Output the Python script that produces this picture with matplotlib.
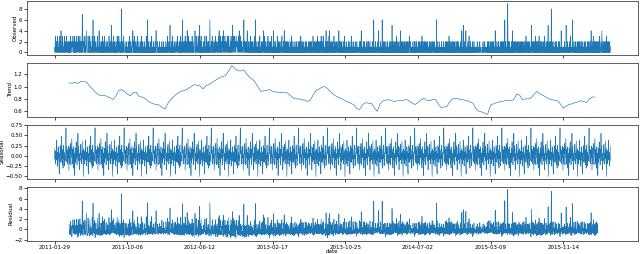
import numpy as np
import pandas as pd
from matplotlib import pyplot as plt

start_date = "2011-01-29"

# daily counts, one string per 50 days
observed_segments = [
    "0103120210" "3011020130" "2140102301" "0120310201" "1302011020",
    "2010301120" "0213012030" "1020131021" "0301201302" "1020170312",
    "0120301024" "1000130200" "0310201103" "2061020130" "0020010031",
    "0104012010" "2010300102" "0130100201" "1020010300" "0200150102",
    "1030102010" "0201031020" "1310020102" "8010201300" "0120102010",
    "0102010300" "1020100314" "0201302010" "2010130201" "0100201030",
    "0102001020" "1001030100" "6010200102" "0100301001" "0201002014",
    "1000201001" "0200100102" "0010020010" "1002001030" "0102001500",
    "1020103010" "0201021002" "1030120100" "2010301021" "6020102003",
    "1020104012" "0310201020" "1203010210" "0124010301" "2010301205",
    "0201302010" "1020120301" "0130201020" "2010630102" "1203010210",
    "2013020120" "1020314021" "3010202130" "1401203012" "0210301203",
    "2010120302" "1250213021" "3021032120" "1203140213" "0212010021",
    "0612010201" "2034010201" "1020301020" "2010102013" "0600102010",
    "1020103010" "0201002014" "1030102010" "0201301020" "1020010301",
    "0104020100" "2010103010" "0201020102" "1030100201" "4010201020",
    "1020102010" "0201030100" "2010010201" "0102001020" "1002010301",
    "0201020100" "1020010201" "0102102010" "2010201003" "0201020120",
    "1020301020" "2010201302" "0120302010" "1020401020" "2010304102",
    "1020102010" "0301020102" "1020100040" "2010201020" "0102010300",
    "1002010100" "0201002010" "1030100201" "0100201000" "2001000102",
    "0102040100" "1020100201" "0102010020" "2010020100" "0102001060",
    "1000201010" "0020140100" "1020100601" "0201020010" "2010102010",
    "0102010201" "0500201020" "1020103010" "0201020100" "4010201020",
    "1020102010" "0201020102" "1300201010" "0102010020" "2010020100",
    "0201020102" "1020301020" "0102010201" "2010201010" "0201020102",
    "1020102010" "0100602010" "1002010100" "0201001020" "1000201002",
    "0102010300" "2010201020" "1020102010" "0201020201" "2010102010",
    "0400105010" "2010140100" "1020103010" "0201001020" "1002010100",
    "0100201000" "1002000100" "0010201000" "2000100102" "0102010020",
    "1020102010" "0201004010" "1020100201" "0102010020" "2010200106",
    "1020100209" "0201020100" "1020040102" "0102010201" "2010201020",
    "1020102010" "0201020102" "1030102010" "0201020100" "2500201020",
    "1020301020" "2010201301" "0201020102" "1020103010" "0201020150",
    "1020100208" "0201020100" "1020102010" "0102010200" "1004010010",
    "0100201000" "5010020100" "1020030100" "0260100201" "0102010020",
    "1020102010" "0201020100" "1020102010" "0102010201" "2010204010",
    "1020301020" "2010201020" "0201030102" "1024010201" "0201020103",
    "1020102010201",
]
observed = np.array([int(c) for c in "".join(observed_segments)])

# trend read every 10 days, from day 50
trend_start = 50
trend_step = 10
trend = [
    1.06, 1.05, 1.07, 1.05, 1.08, 1.08, 1.07, 1.01, 0.96, 0.91,
    0.87, 0.85, 0.86, 0.84, 0.82, 0.79, 0.84, 0.93, 0.95, 0.92,
    0.88, 0.85, 0.90, 0.91, 0.84, 0.83, 0.81, 0.77, 0.74, 0.72,
    0.71, 0.70, 0.66, 0.64, 0.73, 0.79, 0.84, 0.88, 0.91, 0.93,
    0.94, 0.97, 1.00, 1.03, 1.02, 1.01, 0.96, 1.01, 1.03, 1.06,
    1.09, 1.12, 1.15, 1.16, 1.19, 1.26, 1.34, 1.29, 1.26, 1.25,
    1.27, 1.21, 1.15, 1.12, 1.07, 0.99, 0.92, 0.93, 0.94, 0.95,
    0.92, 0.91, 0.91, 0.90, 0.90, 0.90, 0.86, 0.82, 0.80, 0.80,
    0.79, 0.78, 0.76, 0.78, 0.87, 0.94, 0.96, 0.99, 1.00, 0.96,
    0.91, 0.87, 0.84, 0.82, 0.80, 0.77, 0.75, 0.73, 0.70, 0.64,
    0.63, 0.71, 0.74, 0.73, 0.73, 0.66, 0.60, 0.72, 0.77, 0.78,
    0.79, 0.77, 0.76, 0.77, 0.77, 0.78, 0.79, 0.77, 0.73, 0.71,
    0.74, 0.78, 0.81, 0.78, 0.77, 0.79, 0.79, 0.72, 0.66, 0.67,
    0.68, 0.76, 0.80, 0.81, 0.80, 0.79, 0.78, 0.77, 0.75, 0.73,
    0.64, 0.60, 0.59, 0.57, 0.55, 0.70, 0.72, 0.74, 0.75, 0.76,
    0.77, 0.78, 0.77, 0.79, 0.88, 0.86, 0.79, 0.80, 0.80, 0.82,
    0.88, 0.92, 0.88, 0.86, 0.83, 0.80, 0.79, 0.78, 0.77, 0.72,
    0.65, 0.68, 0.71, 0.72, 0.74, 0.75, 0.77, 0.76, 0.74, 0.80,
    0.83, 0.83,
]

# one seasonal cycle (100 days)
seasonal_cycle = [
    0.17, -0.08, 0.10, -0.20, 0.12, -0.02, 0.38, -0.10, 0.05, -0.25,
    0.08, -0.12, 0.22, -0.05, 0.10, -0.28, -0.44, 0.05, -0.15, 0.25,
    0.02, 0.18, -0.16, 0.10, 0.48, -0.08, 0.15, -0.22, 0.02, -0.30,
    0.12, 0.26, -0.06, 0.08, -0.24, 0.02, -0.12, 0.20, 0.32, 0.68,
    0.05, 0.22, -0.15, 0.06, -0.20, 0.15, -0.04, 0.24, -0.12, -0.35,
    0.02, -0.18, 0.20, 0.04, 0.30, -0.08, -0.22, 0.10, 0.26, 0.42,
    -0.05, 0.16, -0.20, 0.08, -0.30, 0.12, 0.22, -0.10, 0.06, -0.48,
    0.04, -0.16, 0.18, -0.04, 0.34, -0.06, 0.12, -0.22, 0.16, -0.02,
    0.55, 0.08, 0.24, -0.12, 0.06, -0.34, 0.02, -0.14, 0.20, 0.04,
    0.28, -0.10, 0.06, -0.20, 0.14, 0.36, -0.06, 0.10, -0.26, -0.50,
]

n = len(observed)
days = np.arange(n)
dates = pd.date_range(start_date, periods=n)

seasonal = np.tile(seasonal_cycle, n // len(seasonal_cycle) + 1)[:n]
trend = np.array(trend)
trend_days = trend_start + trend_step * np.arange(len(trend))

# residual = observed - trend - seasonal where the trend exists
resid_days = np.arange(trend_start, trend_start + trend_step * len(trend))
residual = observed[resid_days] - np.repeat(trend, trend_step) - seasonal[resid_days]

plt.rcParams["font.size"] = 4.0
plt.rcParams["axes.linewidth"] = 0.6
plt.rcParams["xtick.major.width"] = 0.5
plt.rcParams["ytick.major.width"] = 0.5
plt.rcParams["xtick.major.size"] = 2
plt.rcParams["ytick.major.size"] = 2
plt.rcParams["xtick.major.pad"] = 1.0
plt.rcParams["ytick.major.pad"] = 1.2

fig, axes = plt.subplots(4, 1, figsize=(6.4, 2.54), dpi=100, sharex=True)
fig.subplots_adjust(left=0.042, right=0.997, top=0.996, bottom=0.052, hspace=0.15)

lw = 0.45
axes[0].plot(days, observed, color="tab:blue", lw=lw)
axes[0].set_ylabel("Observed")
axes[1].plot(trend_days, trend, color="tab:blue", lw=lw)
axes[1].set_ylabel("Trend")
axes[2].plot(days, seasonal, color="tab:blue", lw=lw)
axes[2].set_ylabel("Seasonal")
axes[3].plot(resid_days, residual, color="tab:blue", lw=lw)
axes[3].set_ylabel("Residual")

axes[0].set_yticks([0, 2, 4, 6, 8])
axes[1].set_yticks([0.6, 0.8, 1.0, 1.2])
axes[2].set_yticks([-0.5, -0.25, 0, 0.25, 0.5, 0.75])
axes[3].set_yticks([-2, 0, 2, 4, 6, 8])

ticks = np.arange(0, n, 250)
axes[3].set_xticks(ticks)
axes[3].set_xticklabels([dates[t].strftime("%Y-%m-%d") for t in ticks])
axes[3].set_xlabel("date")
axes[3].xaxis.set_label_coords(0.5, -0.15)

for ax in axes:
    ax.yaxis.labelpad = 0.5
    for s in ax.spines.values():
        s.set_color("#444444")

fig.savefig("out.png", dpi=100)
